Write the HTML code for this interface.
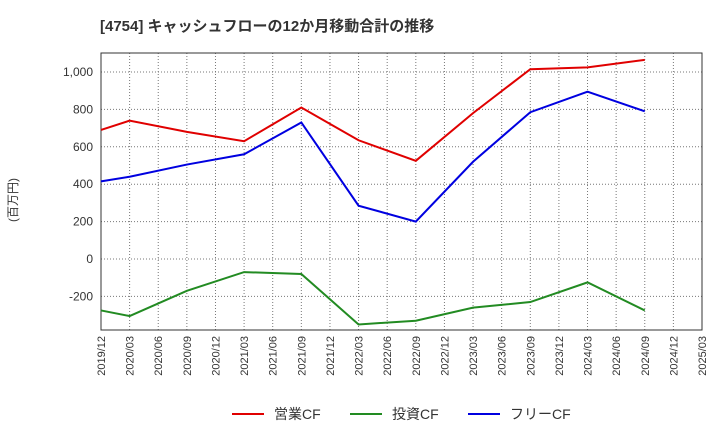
<!DOCTYPE html>
<html><head><meta charset="utf-8"><style>
body{margin:0;background:#fff;font-family:"Liberation Sans","Noto Sans CJK JP",sans-serif;}
</style></head><body>
<svg width="720" height="440" xmlns="http://www.w3.org/2000/svg" font-family="'Liberation Sans','Noto Sans CJK JP',sans-serif">
<text x="100" y="31" font-size="15" font-weight="bold" fill="#333">[4754]  キャッシュフローの12か月移動合計の推移</text>
<text transform="translate(17,200) rotate(-90)" font-size="12" fill="#333" text-anchor="middle">(百万円)</text>
<g id="grid"></g><g id="axes"></g><g id="series"></g><g id="legend"></g>
</svg>
<script>
const xLabels=["2019/12","2020/03","2020/06","2020/09","2020/12","2021/03","2021/06","2021/09","2021/12","2022/03","2022/06","2022/09","2022/12","2023/03","2023/06","2023/09","2023/12","2024/03","2024/06","2024/09","2024/12","2025/03"];
const yTicks=[-200,0,200,400,600,800,1000];
const pointIdx=[0,1,3,5,7,9,11,13,15,17,19];
const opCF=[690,740,680,630,810,635,525,780,1015,1025,1065];
const invCF=[-275,-305,-170,-70,-80,-350,-330,-260,-230,-125,-275];
const freeCF=[415,440,505,560,730,285,200,520,785,895,790];
const NS="http://www.w3.org/2000/svg";
const L=101,R=702,T=53,B=330;
const xs=i=>L+i*(R-L)/(xLabels.length-1);
const ys=v=>259-v*0.187;
function mk(tag,attrs,parent){const e=document.createElementNS(NS,tag);for(const k in attrs)e.setAttribute(k,attrs[k]);document.getElementById(parent).appendChild(e);return e;}
xLabels.forEach((lab,i)=>{
 const g=mk("line",{x1:xs(i),x2:xs(i),y1:T,y2:B,stroke:"#777","stroke-dasharray":"1,2","stroke-width":1},"grid");
 
 
 const t=mk("text",{transform:`translate(${xs(i)+4},${B+6}) rotate(-90)`,"font-size":11,fill:"#333","text-anchor":"end"},"axes");
 t.textContent=lab;
 
 
});
yTicks.forEach(v=>{
 const g=mk("line",{x1:L,x2:R,y1:ys(v),y2:ys(v),stroke:"#777","stroke-dasharray":"1,2","stroke-width":1},"grid");
 
 
 const t=mk("text",{x:L-8,y:ys(v)+4,"font-size":12,fill:"#333","text-anchor":"end"},"axes");
 t.textContent=v.toLocaleString("en-US");
 
 
});
const fr=mk("rect",{x:L,y:T,width:R-L,height:B-T,fill:"none",stroke:"#333","stroke-width":1},"axes");


const series=[["operating-cf-line",opCF,"#e00000"],["investing-cf-line",invCF,"#228b22"],["free-cf-line",freeCF,"#0000e0"]];
series.forEach(([name,vals,col])=>{
 const p=mk("polyline",{points:vals.map((v,k)=>xs(pointIdx[k])+","+ys(v)).join(" "),fill:"none",stroke:col,"stroke-width":2},"series");
 
 
});
const leg=[["営業CF","#e00000",232],["投資CF","#228b22",350],["フリーCF","#0000e0",468]];
leg.forEach(([lab,col,x])=>{
 const g=mk("g",{},"legend");
 
 
 const l=document.createElementNS(NS,"line");
 [["x1",x],["x2",x+32],["y1",414],["y2",414],["stroke",col],["stroke-width",2]].forEach(a=>l.setAttribute(a[0],a[1]));
 g.appendChild(l);
 const t=document.createElementNS(NS,"text");
 [["x",x+42],["y",419],["font-size",14],["fill","#333"]].forEach(a=>t.setAttribute(a[0],a[1]));
 t.textContent=lab;g.appendChild(t);
});
</script>
</body></html>
